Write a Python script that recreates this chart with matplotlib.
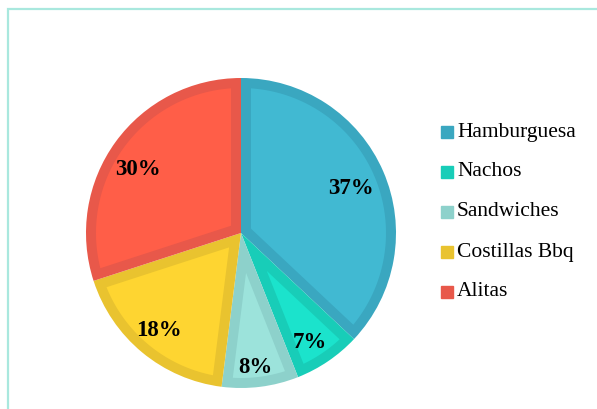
import matplotlib

matplotlib.use("Agg")

import matplotlib.pyplot as plt
import numpy as np
from matplotlib.patches import Polygon, Rectangle

labels = ["Hamburguesa", "Nachos", "Sandwiches", "Costillas Bbq", "Alitas"]
values = [37, 7, 8, 18, 30]
fill_colors = ["#41B9D2", "#1BE3CC", "#9CE3DB", "#FED531", "#FF5E48"]
edge_colors = ["#3AA7C0", "#18CDB8", "#8DD1CB", "#E9C32F", "#E8584A"]

W, H = 597, 409
fig = plt.figure(figsize=(W / 100, H / 100), dpi=100)
ax = fig.add_axes([0, 0, 1, 1])

cx, cy, radius = 241, H - 233, 155
border = 10

# outer wedges in the darker shade, lighter inset drawn on top
wedges, texts, autotexts = ax.pie(
    values,
    colors=edge_colors,
    startangle=90,
    counterclock=False,
    center=(cx, cy),
    radius=radius,
    autopct="%d%%",
    pctdistance=0.81,
    frame=True,
    wedgeprops={"linewidth": 0},
    textprops={"family": "Liberation Serif", "fontsize": 16.5, "fontweight": "bold",
               "color": "black", "zorder": 5},
)

for wedge, fc in zip(wedges, fill_colors):
    t1, t2 = np.radians(wedge.theta1), np.radians(wedge.theta2)
    half = (t2 - t1) / 2
    mid = (t1 + t2) / 2
    r_in = radius - border
    off = np.arcsin(border / r_in)
    arc = np.linspace(t1 + off, t2 - off, 80)
    apex = border / np.sin(half)
    pts = [(cx + apex * np.cos(mid), cy + apex * np.sin(mid))]
    pts += [(cx + r_in * np.cos(a), cy + r_in * np.sin(a)) for a in arc]
    ax.add_patch(Polygon(pts, closed=True, facecolor=fc, edgecolor="none", zorder=2))

# small nudges so the percentages sit where the original put them
label_nudge = [(-5, -5), (-2, -6), (-1, -10), (-2, -1), (-1, -10)]
for txt, (dx, dy) in zip(autotexts, label_nudge):
    x, y = txt.get_position()
    txt.set_position((x + dx, y + dy))

ax.set_xlim(0, W)
ax.set_ylim(0, H)
ax.axis("off")

# frame lines (only left and top are visible in the original)
ax.plot([8, 8, W], [0, H - 9, H - 9], color="#A9E8DE", lw=1.6, solid_joinstyle="miter")

# legend
for i, (label, ec) in enumerate(zip(labels, edge_colors)):
    y = H - 132 - i * 40
    ax.add_patch(Rectangle((441, y - 6), 12, 12, color=ec))
    ax.text(457, y, label, family="Liberation Serif", fontsize=15.5, va="center", ha="left")

fig.savefig("out.png", dpi=100)
